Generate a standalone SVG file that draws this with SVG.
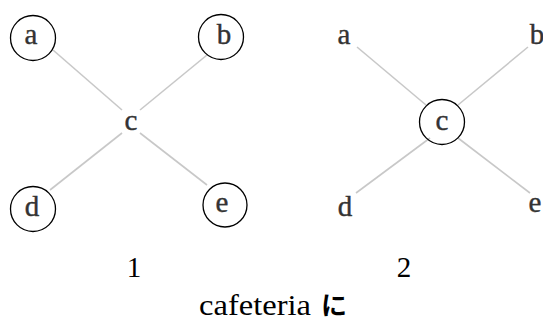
<svg xmlns="http://www.w3.org/2000/svg" width="543" height="322" viewBox="0 0 543 322">
<style>
.n{font-family:"Liberation Serif","DejaVu Serif",serif;font-size:29px;fill:#333;stroke:#333;stroke-width:0.4;text-anchor:middle}
.ring{fill:none;stroke:#000;stroke-width:1.3}
.e{stroke:#c8c8c8;stroke-width:1.6;fill:none}
.lbl{font-family:"Liberation Serif","DejaVu Serif",serif;font-size:29px;fill:#000;text-anchor:middle}
</style>
<rect width="543" height="322" fill="#fff"/>
<g id="connectors">
<line class="e" x1="53" y1="50" x2="122" y2="110"/>
<line class="e" x1="207" y1="55" x2="140" y2="110"/>
<line class="e" x1="122" y1="133" x2="50" y2="190"/>
<line class="e" x1="140" y1="133" x2="207" y2="185"/>
<line class="e" x1="357" y1="47" x2="426" y2="105"/>
<line class="e" x1="528" y1="47" x2="458" y2="105"/>
<line class="e" x1="430" y1="138" x2="356" y2="193"/>
<line class="e" x1="458" y1="138" x2="530" y2="193"/>
</g>
<g id="g1-a"><circle class="ring" cx="33" cy="38" r="22.5"/><text class="n" x="31" y="44">a</text></g>
<g id="g1-b"><circle class="ring" cx="221" cy="37" r="22.5"/><text class="n" x="224" y="44">b</text></g>
<g id="g1-c"><text class="n" x="131" y="130">c</text></g>
<g id="g1-d"><circle class="ring" cx="33" cy="209" r="22.5"/><text class="n" x="32" y="216">d</text></g>
<g id="g1-e"><circle class="ring" cx="225" cy="205" r="22"/><text class="n" x="222" y="212">e</text></g>
<g id="g2-a"><text class="n" x="344" y="44">a</text></g>
<g id="g2-b"><text class="n" x="537" y="44">b</text></g>
<g id="g2-c"><circle class="ring" cx="442" cy="122" r="22.5"/><text class="n" x="442" y="130">c</text></g>
<g id="g2-d"><text class="n" x="345" y="216">d</text></g>
<g id="g2-e"><text class="n" x="535" y="212">e</text></g>
<text class="lbl" x="134" y="277">1</text>
<text class="lbl" x="404" y="277">2</text>
<text x="199" y="315" font-family="'Liberation Serif','DejaVu Serif',serif" font-size="29" fill="#000" textLength="112" lengthAdjust="spacingAndGlyphs">cafeteria</text>
<text x="321" y="315" font-family="'Noto Sans CJK JP',sans-serif" font-weight="bold" font-size="26" fill="#000">に</text>
</svg>
